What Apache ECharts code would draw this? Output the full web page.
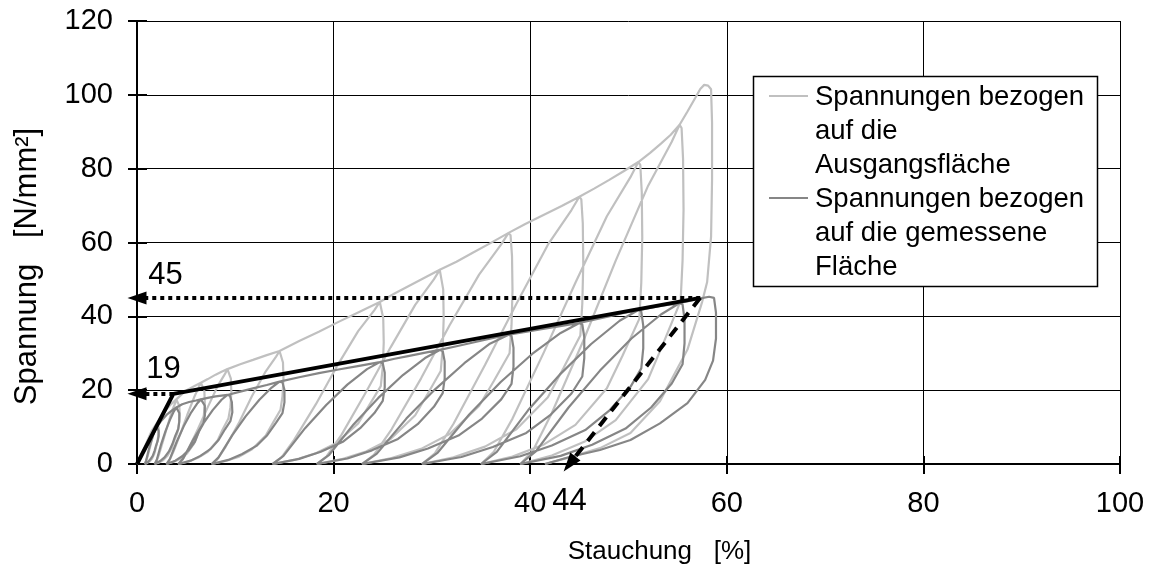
<!DOCTYPE html>
<html>
<head>
<meta charset="utf-8">
<script src="https://cdn.jsdelivr.net/npm/echarts@6/dist/echarts.min.js"></script>
<style>
  html, body { margin: 0; padding: 0; background: #ffffff; }
  #chart { width: 1153px; height: 576px; }
</style>
</head>
<body>
<div id="chart"></div>
<script>
// Axis ranges and tick steps
const xRange = [0, 100];
const yRange = [0, 120];
const tickStep = 20;

// Axis titles
const xTitle = 'Stauchung   [%]';
const yTitle = 'Spannung   [N/mm²]';

// Legend texts
const legendLight = 'Spannungen bezogen\nauf die\nAusgangsfläche';
const legendDark = 'Spannungen bezogen\nauf die gemessene\nFläche';

// Cyclic test, stress referred to the initial cross-section [strain %, stress N/mm²]
const stressInitialArea = [
  [0,0],[0.5,3],[1,6],[1.5,9],[2,11],
  [2.1,10.9],[2.2,9.9],[2.2,8.2],[2.1,6.6],[2.0,5.3],[1.88,4.0],[1.76,2.75],[1.52,1.4],[1.28,0.7],[1.04,0.3],[0.8,0],
  [0.9,0.4],[1.04,1.7],[1.28,4.1],[1.52,6.6],[1.76,9.0],[2,11],
  [2.5,13],[3,14.8],[3.5,16.3],[4,17.5],
  [4.15,17.3],[4.3,15.8],[4.35,13.1],[4.25,10.5],[4.1,8.4],[3.78,6.3],[3.56,4.4],[3.12,2.3],[2.68,1.1],[2.24,0.4],[1.8,0],
  [1.98,0.7],[2.24,2.6],[2.68,6.5],[3.12,10.5],[3.56,14.4],[3.9,16.6],[4,17.5],
  [4.6,19],[5.2,20.2],[5.9,21.2],[6.5,22],
  [6.7,21.8],[6.85,19.8],[6.9,16.5],[6.8,13.2],[6.6,10.6],[6.15,7.9],[5.8,5.5],[5.1,2.9],[4.4,1.4],[3.7,0.55],[3.0,0],
  [3.28,0.9],[3.7,3.3],[4.4,8.1],[5.1,13.2],[5.8,18],[6.3,20.9],[6.5,22],
  [7.2,23],[8.0,24.2],[8.6,25],[9.2,25.7],
  [9.4,25.4],[9.55,23.1],[9.6,19.3],[9.5,15.4],[9.3,12.3],[8.7,9.3],[8.2,6.4],[7.2,3.3],[6.2,1.7],[5.2,0.6],[4.2,0],
  [4.6,1.0],[5.2,3.9],[6.2,9.5],[7.2,15.4],[8.2,21.1],[8.95,24.4],[9.2,25.7],
  [10.5,27],[11.8,28.2],[13.2,29.5],[14.5,30.6],
  [14.7,30.3],[14.85,27.5],[14.9,23],[14.8,18.4],[14.6,14.7],[13.8,11],[13.1,7.7],[11.7,4],[10.4,2],[9.0,0.8],[7.6,0],
  [8.15,1.2],[9.0,4.6],[10.4,11.3],[11.7,18.4],[13.1,25.1],[14.15,29.1],[14.5,30.6],
  [16.5,33.3],[18.5,35.8],[20.5,38.5],[22.6,41.2],[24.7,43.9],
  [24.9,43.5],[25.05,39.5],[25.1,32.9],[25.0,26.3],[24.8,21.1],[23.6,15.8],[22.5,11],[20.3,5.7],[18.2,2.9],[16.0,1.1],[13.8,0],
  [14.7,1.8],[16.0,6.6],[18.2,16.2],[20.3,26.3],[22.5,36],[24.15,41.7],[24.7,43.9],
  [26.2,46.2],[27.7,48.3],[29.2,50.4],[30.8,52.6],
  [31.0,52.1],[31.15,47.3],[31.2,39.5],[31.1,31.6],[30.9,25.2],[29.55,18.9],[28.3,13.2],[25.8,6.8],[23.3,3.4],[20.8,1.3],[18.3,0],
  [19.3,2.1],[20.8,7.9],[23.3,19.5],[25.8,31.6],[28.3,43.1],[30.2,50],[30.8,52.6],
  [32.5,54.8],[34.2,57.3],[36,59.9],[37.8,62.6],
  [38.0,62],[38.15,56.3],[38.2,47],[38.1,37.6],[37.9,30],[36.3,22.5],[34.8,15.7],[31.8,8.1],[28.9,4.1],[25.9,1.6],[22.9,0],
  [24.1,2.5],[25.9,9.4],[28.9,23.2],[31.8,37.6],[34.8,51.3],[37.05,59.5],[37.8,62.6],
  [39.5,65],[41.3,67.4],[43.2,69.9],[45,72.4],
  [45.2,71.7],[45.35,65.2],[45.4,54.3],[45.3,43.4],[45.1,34.8],[43.4,26.1],[41.8,18.1],[38.6,9.4],[35.4,4.7],[32.2,1.8],[29,0],
  [30.3,2.9],[32.2,10.9],[35.4,26.8],[38.6,43.4],[41.8,59.4],[44.2,68.8],[45,72.4],
  [46.5,74.6],[48,76.9],[49.5,79.3],[51,81.8],
  [51.2,81],[51.35,73.6],[51.4,61.4],[51.3,49.1],[51.1,39.3],[49.4,29.4],[47.8,20.5],[44.6,10.6],[41.4,5.3],[38.2,2],[35,0],
  [36.3,3.3],[38.2,12.3],[41.4,30.3],[44.6,49.1],[47.8,67.1],[50.2,77.7],[51,81.8],
  [52.2,84.3],[53.3,86.8],[54.3,89.2],[55.2,91.9],
  [55.4,91],[55.55,82.7],[55.6,68.9],[55.5,55.1],[55.3,44.1],[53.6,33.1],[52,23],[48.7,11.9],[45.5,6],[42.2,2.3],[39,0],
  [40.3,3.7],[42.2,13.8],[45.5,34],[48.7,55.1],[52,75.4],[54.4,87.3],[55.2,91.9],
  [56,95.5],[56.8,99.2],[57.3,101.6],[57.7,102.7],[58.1,102.5],
  [58.4,101.5],[58.5,92.4],[58.5,77],[58.4,61.6],[58,49.3],[57.5,44],[56,31],[53.2,17],[50.2,8.4],[47.1,4.3],[44,1.8],[41.5,0]
];

// Same test, stress referred to the measured cross-section
const stressMeasuredArea = [
  [0,0],[0.5,2.8],[1,5.5],[1.5,8],[2,10],
  [2.1,9.9],[2.2,9],[2.2,7.5],[2.1,6.2],[1.94,5],[1.78,3.5],[1.6,2.2],[1.34,1.2],[1.1,0.5],[0.8,0],
  [0.92,0.8],[1.16,3.5],[1.4,5.8],[1.64,7.8],[1.86,9.3],[2,10],
  [2.5,11.8],[3,13.3],[3.5,14.4],[4,15.3],
  [4.15,15.1],[4.3,13.8],[4.3,11.5],[4.2,9.5],[3.9,7.7],[3.6,5.4],[3.25,3.4],[2.8,1.8],[2.35,0.8],[1.8,0],
  [2.02,1.2],[2.46,5.4],[2.9,8.9],[3.34,11.9],[3.74,14.2],[4,15.3],
  [4.6,16.2],[5.3,16.8],[6,17.2],[6.5,17.5],
  [6.7,17.3],[6.9,15.8],[6.9,13.1],[6.75,10.9],[6.3,8.8],[5.9,6.1],[5.3,3.9],[4.6,2.1],[3.9,0.9],[3,0],
  [3.35,1.4],[4.05,6.1],[4.75,10.2],[5.45,13.7],[6.1,16.3],[6.5,17.5],
  [7.2,17.9],[8,18.3],[8.6,18.5],[9.2,18.7],
  [9.45,18.5],[9.65,16.8],[9.7,14],[9.5,11.6],[8.95,9.4],[8.3,6.5],[7.5,4.1],[6.45,2.2],[5.45,0.9],[4.2,0],
  [4.7,1.5],[5.7,6.5],[6.7,10.8],[7.7,14.6],[8.6,17.4],[9.2,18.7],
  [10.5,19.6],[11.8,20.5],[13.2,21.4],[14.5,22.3],
  [14.8,22.1],[15,20.1],[15,16.7],[14.8,13.8],[14.15,11.2],[13.25,7.8],[12.15,4.9],[10.7,2.7],[9.3,1.1],[7.6,0],
  [8.3,1.8],[9.7,7.8],[11.05,12.9],[12.45,17.4],[13.7,20.7],[14.5,22.3],
  [16.5,23.5],[18.5,24.6],[20.5,25.6],[22.6,26.6],[24.7,27.6],
  [25,27.3],[25.2,24.8],[25.2,20.7],[25,17.1],[24.15,13.8],[22.7,9.7],[21,6.1],[18.7,3.3],[16.5,1.4],[13.8,0],
  [14.9,2.2],[17.1,9.7],[19.25,16],[21.4,21.5],[23.4,25.7],[24.7,27.6],
  [26.2,28.5],[27.7,29.3],[29.2,30.1],[30.8,30.9],
  [31.1,30.6],[31.3,27.8],[31.3,23.2],[31.1,19.2],[30.2,15.5],[28.55,10.8],[26.55,6.8],[23.9,3.7],[21.4,1.5],[18.3,0],
  [19.55,2.5],[22.05,10.8],[24.55,17.9],[27.05,24.1],[29.3,28.7],[30.8,30.9],
  [32.5,31.9],[34.2,32.9],[36,34],[37.8,35],
  [38.1,34.7],[38.3,31.5],[38.3,26.3],[38.1,21.7],[37.05,17.5],[35.1,12.3],[32.7,7.7],[29.6,4.2],[26.7,1.8],[22.9,0],
  [24.4,2.8],[27.4,12.3],[30.35,20.3],[33.3,27.3],[35.9,32.6],[37.8,35],
  [39.5,35.8],[41.3,36.6],[43.2,37.4],[45,38.2],
  [45.3,37.8],[45.5,34.4],[45.5,28.7],[45.3,23.7],[44.2,19.1],[42.1,13.4],[39.6,8.4],[36.2,4.6],[33,1.9],[29,0],
  [30.6,3.1],[33.8,13.4],[37,22.2],[40.2,29.8],[43.1,35.5],[45,38.2],
  [46.5,39.1],[48,40],[49.5,40.9],[51,41.7],
  [51.3,41.3],[51.5,37.5],[51.5,31.3],[51.3,25.9],[50.2,20.9],[48.1,14.6],[45.6,9.2],[42.2,5],[39,2.1],[35,0],
  [36.6,3.3],[39.8,14.6],[43,24.2],[46.2,32.5],[49.1,38.8],[51,41.7],
  [52.2,42.3],[53.3,42.8],[54.3,43.2],[55.2,43.6],
  [55.5,43.2],[55.7,39.2],[55.7,32.7],[55.5,27],[54.4,21.8],[52.3,15.3],[49.7,9.6],[46.3,5.2],[43.1,2.2],[39,0],
  [40.6,3.5],[43.9,15.3],[47.1,25.3],[50.3,34],[53.3,40.5],[55.2,43.6],
  [56.2,44.2],[57.2,44.8],[58.2,45.3],[58.7,45],
  [58.9,41],[58.9,34],[58.6,28],[57.8,22.8],[56,16.5],[53.2,11],[50.2,6.5],[47.1,3.8],[44,1.9],[41.5,0]
];

// Bilinear approximation: knee and end point
const kneeStrain = 3.7;
const kneeStress = 19;
const endStrain = 57.3;
const endStress = 45;
// Strain where the unloading tangent reaches zero stress
const residualStrain = 44;

const bilinear = [[0, 0], [kneeStrain, kneeStress], [endStrain, endStress]];

const FONT = 'Liberation Sans, Arial, sans-serif';
const chart = echarts.init(document.getElementById('chart'), null, { renderer: 'canvas' });

const dotted = { color: '#000', width: 4, type: [4, 4], cap: 'butt' };
const dashed = { color: '#000', width: 4, type: [11, 8], cap: 'butt' };
const valueLabel = { show: true, fontFamily: FONT, fontSize: 31, color: '#000' };

const option = {
  animation: false,
  backgroundColor: '#ffffff',
  grid: { left: 137, right: 33, top: 21, bottom: 112, containLabel: false },
  xAxis: [
    {
      type: 'value', min: xRange[0], max: xRange[1], interval: tickStep,
      name: xTitle, nameLocation: 'middle', nameGap: 75,
      nameTextStyle: { fontFamily: FONT, fontSize: 26, color: '#000', padding: [0, 0, 0, 62] },
      axisLine: { show: true, onZero: false, lineStyle: { color: '#000', width: 2 } },
      axisTick: { show: true, inside: false, length: 10, lineStyle: { color: '#000', width: 2 } },
      axisLabel: { fontFamily: FONT, fontSize: 29, color: '#000', margin: 25 },
      splitLine: { show: true, lineStyle: { color: '#000', width: 1 } }
    },
    {
      type: 'value', min: xRange[0], max: xRange[1], interval: tickStep, position: 'bottom',
      axisLine: { show: false },
      axisTick: { show: true, inside: true, length: 8, lineStyle: { color: '#000', width: 2 } },
      axisLabel: { show: false },
      splitLine: { show: false }
    }
  ],
  yAxis: [
    {
      type: 'value', min: yRange[0], max: yRange[1], interval: tickStep,
      name: yTitle, nameLocation: 'middle', nameGap: 94, nameRotate: 90,
      nameTextStyle: { fontFamily: FONT, fontSize: 31, color: '#000', padding: [0, 48, 0, 0] },
      axisLine: { show: true, onZero: false, lineStyle: { color: '#000', width: 2 } },
      axisTick: { show: true, inside: false, length: 9, lineStyle: { color: '#000', width: 2 } },
      axisLabel: { fontFamily: FONT, fontSize: 29, color: '#000', margin: 24 },
      splitLine: { show: true, lineStyle: { color: '#000', width: 1 } }
    },
    {
      type: 'value', min: yRange[0], max: yRange[1], interval: tickStep, position: 'left',
      axisLine: { show: false },
      axisTick: { show: true, inside: true, length: 10, lineStyle: { color: '#000', width: 2 } },
      axisLabel: { show: false },
      splitLine: { show: false }
    }
  ],
  series: [
    {
      name: 'Ausgangsfläche', type: 'line', data: stressInitialArea,
      showSymbol: false, symbol: 'none', z: 2, clip: true,
      lineStyle: { color: '#c0c0c0', width: 2.2 }
    },
    {
      name: 'gemessene Fläche', type: 'line', data: stressMeasuredArea,
      showSymbol: false, symbol: 'none', z: 3, clip: true,
      lineStyle: { color: '#868686', width: 2.2 }
    },
    {
      name: 'bilinear', type: 'line', data: bilinear,
      showSymbol: false, symbol: 'none', z: 6,
      lineStyle: { color: '#000', width: 4 },
      markLine: {
        silent: true, z: 7,
        symbol: ['none', 'triangle'], symbolSize: [13, 19],
        label: { show: false },
        emphasis: { disabled: true },
        data: [
          [
            { coord: [endStrain, endStress], lineStyle: dotted, itemStyle: { color: '#000' } },
            { coord: [0, endStress] }
          ],
          [
            { coord: [kneeStrain, kneeStress], lineStyle: dotted, itemStyle: { color: '#000' } },
            { coord: [0, kneeStress] }
          ],
          [
            { coord: [endStrain, endStress], lineStyle: dashed, itemStyle: { color: '#000' } },
            { coord: [residualStrain, 0] }
          ]
        ]
      }
    },
    {
      name: 'values', type: 'scatter', symbolSize: 0, z: 8, silent: true,
      itemStyle: { color: '#000', opacity: 1 },
      label: valueLabel,
      data: [
        { value: [2.9, endStress], label: Object.assign({}, valueLabel, { position: 'top', distance: 7, formatter: String(endStress) }) },
        { value: [2.7, kneeStress], label: Object.assign({}, valueLabel, { position: 'top', distance: 9, formatter: String(kneeStress) }) },
        { value: [residualStrain, 0], label: Object.assign({}, valueLabel, { position: 'bottom', distance: 22, formatter: String(residualStrain) }) }
      ]
    }
  ],
  graphic: [
    {
      type: 'rect', z: 20,
      shape: { x: 753.5, y: 76.5, width: 344, height: 210 },
      style: { fill: '#ffffff', stroke: '#000', lineWidth: 1.5 }
    },
    {
      type: 'line', z: 21,
      shape: { x1: 769, y1: 96, x2: 808, y2: 96 },
      style: { stroke: '#c0c0c0', lineWidth: 2 }
    },
    {
      type: 'line', z: 21,
      shape: { x1: 769, y1: 198, x2: 808, y2: 198 },
      style: { stroke: '#868686', lineWidth: 2 }
    },
    {
      type: 'text', z: 21, x: 815, y: 80,
      style: { text: legendLight, fontFamily: FONT, fontSize: 27.5, lineHeight: 34, fill: '#000', textVerticalAlign: 'top' }
    },
    {
      type: 'text', z: 21, x: 815, y: 182,
      style: { text: legendDark, fontFamily: FONT, fontSize: 27.5, lineHeight: 34, fill: '#000', textVerticalAlign: 'top' }
    }
  ]
};

chart.setOption(option);
</script>
</body>
</html>
